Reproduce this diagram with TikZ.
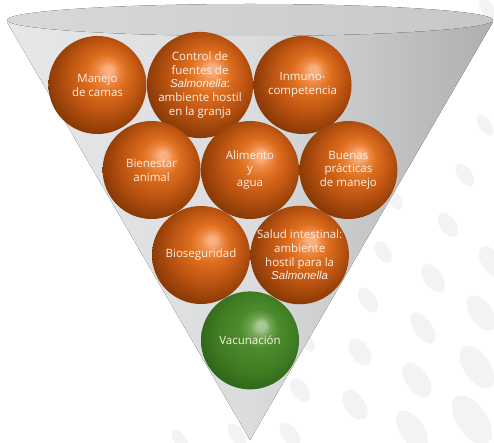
\documentclass[tikz,border=0pt]{standalone}
\usepackage{fontspec}
\setmainfont{Open Sans}
\newfontfamily\salfont{Liberation Sans}
\usetikzlibrary{positioning}
\newcommand{\Salm}{{\salfont\itshape Salmonella}}
\definecolor{dotGray}{HTML}{F3F3F3}
\definecolor{coneLight}{HTML}{E6E7E8}
\definecolor{coneMid}{HTML}{DBDCDD}
\definecolor{coneDark}{HTML}{ADAFB1}
\definecolor{rimLight}{HTML}{D8D9DB}
\definecolor{rimDark}{HTML}{C6C7C9}
\definecolor{ballText}{HTML}{FBF0E8}
\definecolor{orangeHi}{HTML}{F8B080}
\definecolor{orangeGlow}{HTML}{EE8A45}
\definecolor{orangeMain}{HTML}{DE6E1E}
\definecolor{orangeMid}{HTML}{BE5512}
\definecolor{orangeDark}{HTML}{873805}
\definecolor{greenHi}{HTML}{A8C996}
\definecolor{greenGlow}{HTML}{6FA250}
\definecolor{greenMain}{HTML}{4C8C2C}
\definecolor{greenMid}{HTML}{3F7C23}
\definecolor{greenDark}{HTML}{2C6016}
\pgfdeclareradialshading{orangeball}{\pgfpoint{6bp}{8bp}}{color(0bp)=(orangeHi); color(2bp)=(orangeHi); color(5.5bp)=(orangeGlow); color(10bp)=(orangeMain); color(18bp)=(orangeMid); color(28bp)=(orangeDark); color(40bp)=(orangeDark)}
\pgfdeclareradialshading{greenball}{\pgfpoint{6bp}{8bp}}{color(0bp)=(greenHi); color(2bp)=(greenHi); color(5.5bp)=(greenGlow); color(10bp)=(greenMain); color(20bp)=(greenMid); color(30bp)=(greenDark); color(40bp)=(greenDark)}

\begin{document}
\begin{tikzpicture}[x=1pt,y=1pt,node distance=0pt,every node/.append style={align=center},ball/.style={circle, minimum size=98pt, inner sep=0pt, shade, shading=orangeball, text=ballText, font=\fontsize{11.5}{13.7}\selectfont},vacball/.style={ball, shading=greenball}]
    \useasboundingbox (0,0) rectangle (494,442);
    \foreach \x/\y/\a/\b in {487/434/6/12, 485/317/6/12, 465/267/7/13, 448/217/8/14, 395/242/6/11, 383/190/7/12, 433/164/9/16, 492/180/10/18, 368/142/8/14, 423/114/9/18, 481/129/11/20, 360/90/9/15, 417/62/11/20, 477/75/13/24, 355/37/10/17, 412/12/12/22, 472/22/15/28, 307/100/6/11, 300/52/8/13, 290/7/8/14, 237/7/7/13, 180/2/6/12}
        \fill[dotGray, rotate around={35:(\x,\y)}] (\x,\y) ellipse ({\a} and {\b});
    \fill[left color=coneLight, right color=coneDark, middle color=coneMid] (7,420) -- (250,2) -- (493,420) -- cycle;
    \fill[left color=rimLight, right color=rimDark] (250,422) ellipse (243 and 16);
    \node [ball] (control) at (200,357) {Control de\\fuentes de\\\Salm:\\ambiente hostil\\en la granja};
    \node [ball, left=of control] (camas) {Manejo\\de camas};
    \node [ball, right=of control] (inmuno) {Inmuno-\\competencia};
    \node [ball] (alimento) at (250,272) {Alimento\\y\\agua};
    \node [ball, left=of alimento] (bienestar) {Bienestar\\animal};
    \node [ball, right=of alimento] (practicas) {Buenas\\prácticas\\de manejo};
    \node [ball] (bioseg) at (201,187) {Bioseguridad};
    \node [ball, right=of bioseg] (salud) {Salud intestinal:\\ambiente\\hostil para la\\\Salm};
    \node [vacball, below=72pt of alimento] (vacuna) {Vacunación};
\end{tikzpicture}
\end{document}
